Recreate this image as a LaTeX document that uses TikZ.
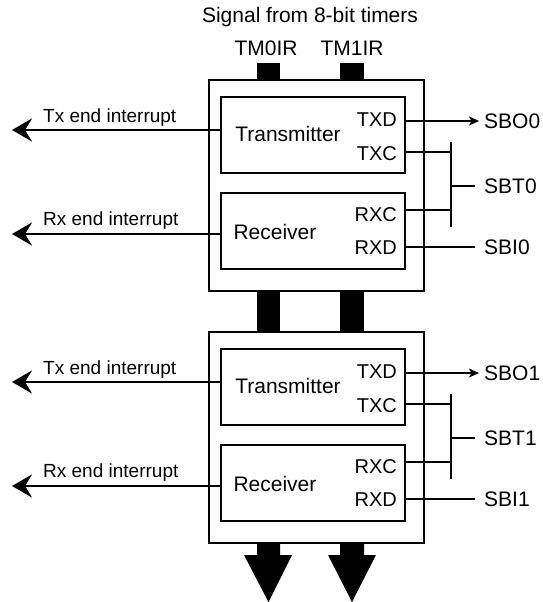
\documentclass[tikz,border=0pt]{standalone}
\usepackage{fontspec}
\setmainfont{Liberation Sans}
\usetikzlibrary{arrows.meta}
\tikzset{
  outerbox/.style={draw, line width=1.3pt, inner sep=0pt, outer sep=0pt, anchor=north west},
  innerbox/.style={draw, line width=2.6pt, inner sep=0pt, outer sep=0pt, anchor=north west, minimum width=184pt, minimum height=76pt},
  barfill/.style={fill=black},
  wire/.style={line width=1.3pt},
  irq/.style={line width=2.2pt, -{Stealth[length=20pt,width=23pt,inset=7pt]}},
  outarrow/.style={line width=1.3pt, -{Stealth[length=10pt,width=9pt,inset=2.5pt]}},
  bigtext/.style={font=\fontsize{21}{25}\selectfont, inner sep=0pt},
  porttext/.style={font=\fontsize{20}{24}\selectfont, inner sep=0pt},
  smalltext/.style={font=\fontsize{19}{23}\selectfont, inner sep=0pt},
}
\begin{document}
\begin{tikzpicture}[x=1pt,y=-1pt]
\useasboundingbox (0,0) rectangle (542,602);
% title
\node[bigtext, anchor=base] (title) at (310,23) {Signal from 8-bit timers};
\node[bigtext, anchor=base] (tm0) at (266,56) {TM0IR};
\node[bigtext, anchor=base] (tm1) at (352,56) {TM1IR};
% top input bars
\fill[barfill] (257,63) rectangle (280,80);
\fill[barfill] (340,63) rectangle (364,80);
% middle bars
\fill[barfill] (257,291) rectangle (280,332);
\fill[barfill] (340,291) rectangle (364,332);
% bottom output arrows
\fill[barfill] (257,542) -- (280,542) -- (280,555) -- (292,555) -- (268.5,602) -- (244,555) -- (257,555) -- cycle;
\fill[barfill] (340,542) -- (364,542) -- (364,555) -- (376,555) -- (352,602) -- (328,555) -- (340,555) -- cycle;

\foreach \o/\i in {0/0,252/1}{
  \node[outerbox, minimum width=215pt, minimum height=211pt] (outer\i) at (209,80+\o) {};
  \node[innerbox] (tx\i) at (221,97+\o) {};
  \node[innerbox] (rx\i) at (221,193+\o) {};
  \node[bigtext] (txname\i) at (288,134+\o) {Transmitter};
  \node[bigtext] (rxname\i) at (275,232+\o) {Receiver};
  \node[porttext, anchor=east] (txd\i) at (397,120+\o) {TXD};
  \node[porttext, anchor=east] (txc\i) at (397,154+\o) {TXC};
  \node[porttext, anchor=east] (rxc\i) at (397,215+\o) {RXC};
  \node[porttext, anchor=east] (rxd\i) at (397,248+\o) {RXD};
  % interrupt outputs
  \coordinate (txirq\i) at (12,130+\o);
  \coordinate (rxirq\i) at (12,234+\o);
  \draw[irq] (tx\i.west |- txirq\i) -- (txirq\i);
  \draw[irq] (rx\i.west |- rxirq\i) -- (rxirq\i);
  \node[smalltext, anchor=base west] (txlab\i) at (43,122+\o) {Tx end interrupt};
  \node[smalltext, anchor=base west] (rxlab\i) at (43,225+\o) {Rx end interrupt};
  % right side signals
  \node[bigtext, anchor=west] (sbo\i) at (484,121+\o) {SBO\i};
  \node[bigtext, anchor=west] (sbt\i) at (484,186+\o) {SBT\i};
  \node[bigtext, anchor=west] (sbi\i) at (484,247+\o) {SBI\i};
  \coordinate (sboend\i) at (479,121+\o);
  \coordinate (txcend\i) at (451,152+\o);
  \coordinate (rxcend\i) at (451,210+\o);
  \coordinate (rxdend\i) at (475,247+\o);
  \coordinate (bartop\i) at (451,142+\o);
  \coordinate (barbot\i) at (451,227+\o);
  \coordinate (barmid\i) at (451,186+\o);
  \coordinate (sbtend\i) at (475,186+\o);
  \draw[outarrow] (tx\i.east |- sboend\i) -- (sboend\i);
  \draw[wire] (tx\i.east |- txcend\i) -- (txcend\i);
  \draw[wire] (rx\i.east |- rxcend\i) -- (rxcend\i);
  \draw[wire] (rx\i.east |- rxdend\i) -- (rxdend\i);
  \draw[wire] (bartop\i) -- (barbot\i);
  \draw[wire] (barmid\i) -- (sbtend\i);
}
\end{tikzpicture}
\end{document}
